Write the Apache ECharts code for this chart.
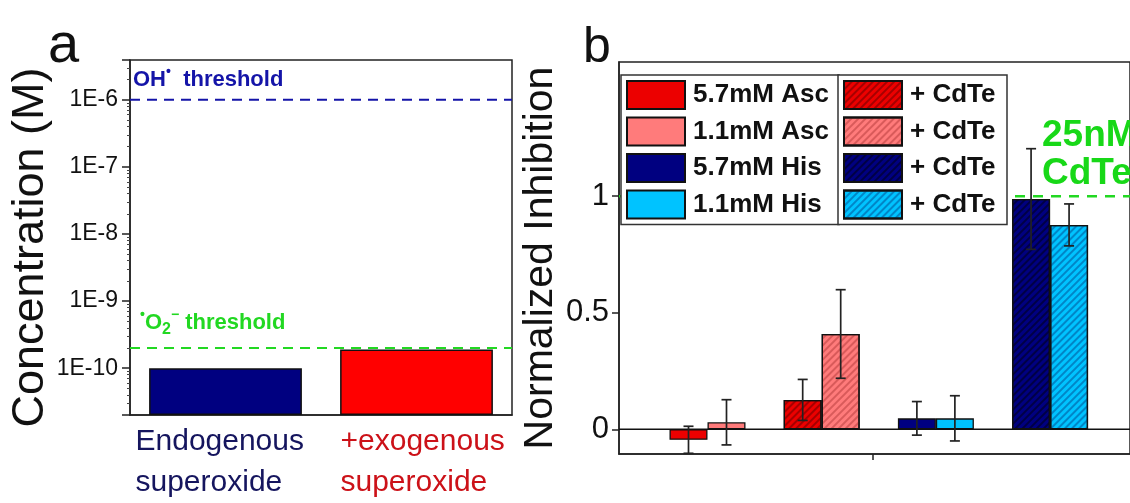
<!DOCTYPE html>
<html><head><meta charset="utf-8">
<script src="https://cdn.jsdelivr.net/npm/echarts@6/dist/echarts.min.js"></script>
<style>html,body{margin:0;padding:0;background:#fff}#c{width:1130px;height:503px}</style>
</head><body><div id="c"></div>
<script>
// ---------- Panel a data ----------
const aCategories = ['Endogenous\nsuperoxide', '+exogenous\nsuperoxide'];
const aLabelColors = ['#15155e', '#cc1118'];
const aBarColors = ['#000080', '#ff0000'];
const aValues = [1.0e-10, 1.9e-10];
const aOHThreshold = 1e-6;
const aO2Threshold = 2e-10;
const aYMin = 2.01e-11;
const aYMax = 3.92e-6;

// ---------- Panel b data ----------
const bGroups = ['1', '2', '3', '4'];
const bNames = ['5.7mM Asc', '1.1mM Asc', '5.7mM His', '1.1mM His',
  '5.7mM Asc + CdTe', '1.1mM Asc + CdTe', '5.7mM His + CdTe', '1.1mM His + CdTe'];
const bGroupIndex = [0, 0, 2, 2, 1, 1, 3, 3];
const bSide = [-1, 1, -1, 1, -1, 1, -1, 1];
const bValues = [-0.045, 0.03, 0.047, 0.047, 0.126, 0.409, 0.988, 0.877];
const bErrors = [0.058, 0.097, 0.072, 0.097, 0.088, 0.19, 0.216, 0.09];
const bColors = ['#ec0000', '#ff7b7b', '#000080', '#00c3ff', '#ec0000', '#ff7b7b', '#000080', '#00c3ff'];
const bHatched = [false, false, false, false, true, true, true, true];
const bHatchColors = ['', '', '', '', 'rgba(80,0,0,0.45)', 'rgba(160,40,40,0.4)', 'rgba(0,0,0,0.45)', 'rgba(0,60,130,0.45)'];
const bYTicks = [0, 0.5, 1];
const bXTicks = [2.5];
const bReference = 1;
const bYMin = -0.106, bYMax = 1.576;
const bXMin = 0.225, bXMax = 4.805;

const FONT = '"Liberation Sans", Arial, Helvetica, sans-serif';
const BAR_W = 38;
const AXIS = { lineStyle: { color: '#222', width: 1.5 } };

// layout of panel b box and of the 4 bar groups inside it
const B_LEFT = 619, B_TOP = 62, B_W = 523, B_H = 392;
const B_UNIT = B_W / (bXMax - bXMin);               // px per group
const B_GROUP_LEFT = B_LEFT + (0.5 - bXMin) * B_UNIT; // left edge of first group band

const chart = echarts.init(document.getElementById('c'));

const bBarSeries = bNames.map((name, i) => ({
  type: 'bar', name, xAxisIndex: 3, yAxisIndex: 2,
  stack: bSide[i] < 0 ? 'L' : 'R',
  barWidth: BAR_W, barGap: '0%',
  data: [[bGroupIndex[i], bValues[i]]],
  itemStyle: Object.assign({ color: bColors[i], borderColor: '#111', borderWidth: 1.3 },
    bHatched[i] ? { decal: { symbol: 'rect', symbolSize: 1, color: bHatchColors[i],
      dashArrayX: [1, 0], dashArrayY: [1.5, 3], rotation: -Math.PI / 4 } } : {}),
  emphasis: { disabled: true },
  z: 2
}));

const errData = bNames.map((n, i) => [bGroupIndex[i], bValues[i] - bErrors[i], bValues[i] + bErrors[i], bSide[i]]);

const richBase = {
  m: { fontSize: 22, fontWeight: 'bold', lineHeight: 30, verticalAlign: 'middle', fontFamily: FONT },
  s: { fontSize: 14, fontWeight: 'bold', lineHeight: 14, verticalAlign: 'top', fontFamily: FONT },
  b: { fontSize: 16, fontWeight: 'bold', lineHeight: 16, verticalAlign: 'bottom', fontFamily: FONT }
};
function rich(color) {
  const r = {};
  Object.keys(richBase).forEach(k => { r[k] = Object.assign({ color }, richBase[k]); });
  return r;
}

function thresholdSeries(value, color, text, offset) {
  return {
    type: 'line', xAxisIndex: 2, yAxisIndex: 0, z: 3, silent: true,
    symbol: 'circle', symbolSize: 0, showSymbol: true,
    lineStyle: { color, width: 2, type: [10, 7] },
    data: [
      { value: [0, value], label: { show: true, position: offset, formatter: text, rich: rich(color) } },
      { value: [1, value] }
    ],
    emphasis: { disabled: true }
  };
}

const option = {
  animation: false,
  backgroundColor: '#fff',
  textStyle: { fontFamily: FONT },
  title: [
    { text: 'a', left: 43, top: 14, textStyle: { fontSize: 56, fontWeight: 'normal', color: '#111', fontFamily: FONT } },
    { text: 'b', left: 578, top: 18, textStyle: { fontSize: 50, fontWeight: 'normal', color: '#111', fontFamily: FONT } }
  ],
  legend: [
    {
      data: bNames.slice(0, 4), orient: 'vertical', left: 621, top: 75, z: 10,
      padding: [5, 5, 5, 5], itemGap: 6.5, itemWidth: 58, itemHeight: 28, icon: 'rect',
      backgroundColor: '#fff', borderColor: '#333', borderWidth: 1.5, selectedMode: false,
      textStyle: { fontSize: 26, fontWeight: 'bold', color: '#111', fontFamily: FONT, lineHeight: 28, width: 141, padding: [0, 0, 0, 3] }
    },
    {
      data: bNames.slice(4), orient: 'vertical', left: 838, top: 75, z: 10,
      padding: [5, 5, 5, 5], itemGap: 6.5, itemWidth: 58, itemHeight: 28, icon: 'rect',
      backgroundColor: '#fff', borderColor: '#333', borderWidth: 1.5, selectedMode: false,
      formatter: () => '+ CdTe',
      textStyle: { fontSize: 26, fontWeight: 'bold', color: '#111', fontFamily: FONT, lineHeight: 28, width: 92, padding: [0, 0, 0, 3] }
    }
  ],
  grid: [
    { left: 130, top: 60, width: 382, height: 357, show: true, borderColor: '#222', borderWidth: 1.5, containLabel: false },
    { left: B_LEFT, top: B_TOP, width: B_W, height: B_H, show: true, borderColor: '#222', borderWidth: 1.5, containLabel: false },
    { left: B_GROUP_LEFT, top: B_TOP, width: bGroups.length * B_UNIT, height: B_H, show: false, containLabel: false }
  ],
  xAxis: [
    {
      type: 'category', gridIndex: 0,
      data: aCategories,
      axisLine: AXIS,
      axisTick: { alignWithLabel: true, length: 6, lineStyle: { color: '#222', width: 1.5 } },
      axisLabel: {
        fontSize: 30, lineHeight: 41, margin: 6, fontFamily: FONT, interval: 0,
        formatter: (v, i) => v.split('\n').map(s => '{c' + i + '|' + s + '}').join('\n'),
        rich: {
          c0: { color: aLabelColors[0], fontSize: 30, lineHeight: 41, width: 180, align: 'left', fontFamily: FONT },
          c1: { color: aLabelColors[1], fontSize: 30, lineHeight: 41, width: 176, align: 'left', padding: [0, 0, 0, 24], fontFamily: FONT }
        }
      }
    },
    {
      type: 'value', gridIndex: 1, min: bXMin, max: bXMax,
      axisLine: { onZero: false, lineStyle: { color: '#222', width: 1.5 } },
      axisTick: { show: true, length: 6, customValues: bXTicks, lineStyle: { color: '#222', width: 1.5 } },
      axisLabel: { show: false },
      splitLine: { show: false }
    },
    { type: 'value', gridIndex: 0, min: 0, max: 1, show: false },
    { type: 'category', gridIndex: 2, data: bGroups, show: false }
  ],
  yAxis: [
    {
      type: 'log', gridIndex: 0, min: aYMin, max: aYMax, startValue: aYMin, logBase: 10,
      axisLine: AXIS,
      axisTick: { length: 8, lineStyle: { color: '#222', width: 1.5 } },
      minorTick: { show: true, splitNumber: 9, length: 3, lineStyle: { color: '#444', width: 1 } },
      splitLine: { show: false }, minorSplitLine: { show: false },
      axisLabel: { fontSize: 23, color: '#111', margin: 12, fontFamily: FONT, showMinLabel: false, showMaxLabel: false,
        formatter: v => '1E' + Math.round(Math.log10(v)) },
      name: 'Concentration (M)', nameLocation: 'middle', nameGap: 77,
      nameTextStyle: { fontSize: 45, color: '#111', fontFamily: FONT, padding: [0, 20, 0, 0] }
    },
    {
      type: 'value', gridIndex: 1, min: bYMin, max: bYMax,
      axisLine: { onZero: false, lineStyle: { color: '#222', width: 1.5 } },
      axisTick: { length: 7, customValues: bYTicks, lineStyle: { color: '#222', width: 1.5 } },
      splitLine: { show: false },
      axisLabel: { fontSize: 31, color: '#111', margin: 10, fontFamily: FONT, customValues: bYTicks },
      name: 'Normalized Inhibition', nameLocation: 'middle', nameGap: 58,
      nameTextStyle: { fontSize: 41, color: '#111', fontFamily: FONT }
    },
    { type: 'value', gridIndex: 2, min: bYMin, max: bYMax, show: false }
  ],
  series: [
    {
      type: 'bar', xAxisIndex: 0, yAxisIndex: 0, barCategoryGap: '20%',
      data: aValues.map((v, i) => ({ value: v, itemStyle: { color: aBarColors[i] } })),
      itemStyle: { borderColor: '#111', borderWidth: 1.5 },
      emphasis: { disabled: true }
    },
    thresholdSeries(aOHThreshold, '#1414a8', '{m|OH}{s|•}{m|  threshold}', [3, -35]),
    thresholdSeries(aO2Threshold, '#22d822', '{s|•}{m|O}{b|2}{s|−}{m| threshold}', [10, -40]),
    // zero line of panel b
    {
      type: 'line', xAxisIndex: 1, yAxisIndex: 1, z: 1, silent: true, symbol: 'none',
      lineStyle: { color: '#111', width: 1.5 },
      data: [[bXMin, 0], [bXMax, 0]], emphasis: { disabled: true }
    },
    // 25nM CdTe reference line of panel b
    {
      type: 'line', xAxisIndex: 1, yAxisIndex: 1, z: 1, silent: true,
      symbol: 'circle', symbolSize: 0, showSymbol: true,
      lineStyle: { color: '#22d822', width: 2.5, type: [10, 8] },
      data: [
        { value: [bXMin, bReference] },
        { value: [bXMax, bReference], label: { show: true, position: [-88, -79], formatter: '25nM\nCdTe',
          color: '#18d818', fontSize: 37, fontWeight: 'bold', lineHeight: 38, fontFamily: FONT } }
      ],
      emphasis: { disabled: true }
    },
    ...bBarSeries,
    {
      type: 'custom', name: 'error', xAxisIndex: 3, yAxisIndex: 2, z: 5,
      data: errData, encode: { x: 0, y: [1, 2] },
      renderItem: (params, api) => {
        const x = api.value(0), lo = api.value(1), hi = api.value(2), side = api.value(3);
        const top = api.coord([x, hi]);
        const bot = api.coord([x, lo]);
        const cx = top[0] + side * BAR_W / 2;
        const cap = 5;
        const st = { stroke: '#222', lineWidth: 1.7 };
        return { type: 'group', children: [
          { type: 'line', shape: { x1: cx, y1: top[1], x2: cx, y2: bot[1] }, style: st },
          { type: 'line', shape: { x1: cx - cap, y1: top[1], x2: cx + cap, y2: top[1] }, style: st },
          { type: 'line', shape: { x1: cx - cap, y1: bot[1], x2: cx + cap, y2: bot[1] }, style: st }
        ] };
      }
    }
  ]
};
chart.setOption(option);
</script>
</body></html>
